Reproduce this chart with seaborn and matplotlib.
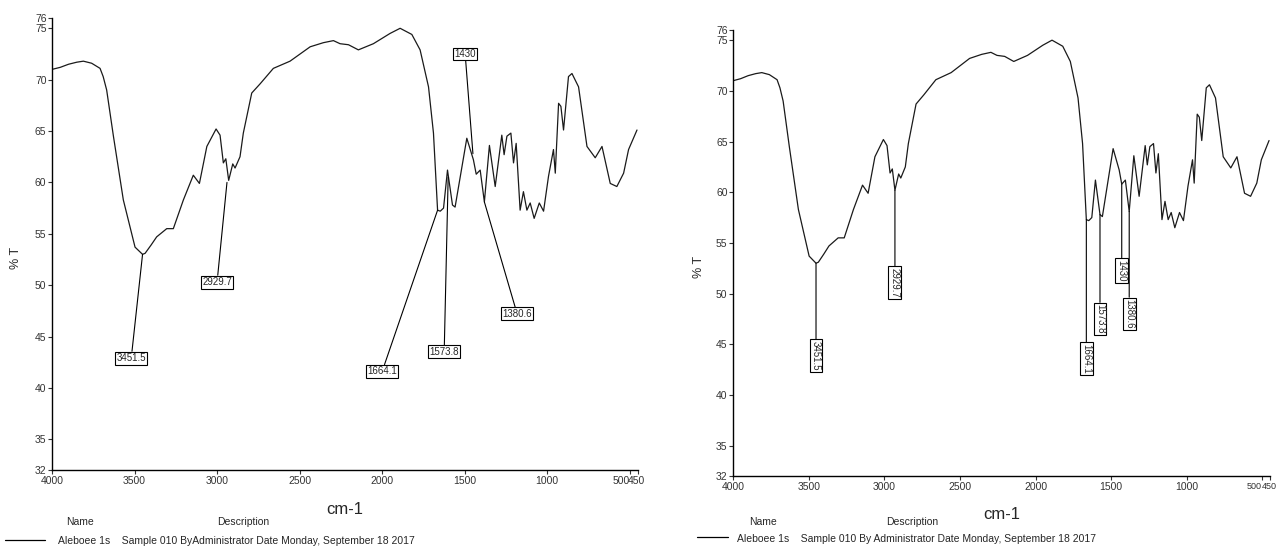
import matplotlib
matplotlib.use("Agg")
import matplotlib.pyplot as plt
from matplotlib.lines import Line2D
from matplotlib.transforms import ScaledTranslation
import pandas as pd
import seaborn as sns

# IR spectrum (wavenumber cm-1, %T)
wavenumber = [4000, 3950, 3900, 3850, 3810, 3760, 3709, 3690, 3669, 3628, 3568, 3497,
              3451.5, 3436, 3400, 3366, 3305, 3265, 3204, 3144, 3107, 3062, 3006, 2982,
              2962, 2947, 2929.7, 2905, 2891, 2861, 2841, 2790, 2739, 2659, 2558, 2436,
              2356, 2295, 2255, 2204, 2144, 2053, 1952, 1891, 1820, 1770, 1719, 1689,
              1664.1, 1648, 1628, 1604, 1573.8, 1558, 1487, 1447, 1430, 1406, 1380.6,
              1350, 1315, 1275, 1261, 1244, 1220, 1204, 1188, 1164, 1144, 1123, 1103,
              1079, 1048, 1022, 992, 962, 951, 931, 917, 901, 871, 850, 810, 759, 709,
              668, 618, 578, 537, 507, 456]
transmittance = [71.0, 71.2, 71.5, 71.7, 71.8, 71.6, 71.1, 70.3, 69.0, 64.5, 58.3, 53.7,
                 53.0, 53.1, 53.9, 54.7, 55.5, 55.5, 58.3, 60.7, 59.9, 63.5, 65.2, 64.6,
                 61.9, 62.3, 60.2, 61.8, 61.4, 62.5, 64.8, 68.7, 69.6, 71.1, 71.8, 73.2,
                 73.6, 73.8, 73.5, 73.4, 72.9, 73.5, 74.5, 75.0, 74.4, 72.9, 69.3, 64.8,
                 57.3, 57.2, 57.5, 61.2, 57.8, 57.6, 64.3, 62.2, 60.8, 61.2, 58.1,
                 63.6, 59.6, 64.6, 62.7, 64.5, 64.8, 61.9, 63.8, 57.3, 59.1, 57.3, 58.0,
                 56.5, 58.0, 57.2, 60.6, 63.2, 60.9, 67.7, 67.4, 65.1, 70.3, 70.6, 69.3,
                 63.5, 62.4, 63.5, 59.9, 59.6, 60.9, 63.2, 65.1]

peak_labels = ["3451.5", "2929.7", "1664.1", "1573.8", "1430", "1380.6"]
peak_x = [3451.5, 2929.7, 1664.1, 1573.8, 1430, 1380.6]
peak_y = [53.0, 60.2, 57.3, 57.8, 60.8, 58.1]
# left panel: slanted leader lines to labels
left_line_x = [3451.5, 2940, 1664.1, 1600, 1450, 1380.6]
left_line_y = [53.0, 60.0, 57.3, 60.5, 62.8, 58.1]
left_box_x = [3520, 3000, 2000, 1624, 1497, 1182]
left_box_y = [42.9, 50.3, 41.6, 43.5, 72.5, 47.2]
# right panel: vertical labels under each peak
right_box_y = [43.9, 51.1, 43.6, 47.5, 52.3, 48.0]

x_ticks = [4000, 3500, 3000, 2500, 2000, 1500, 1000, 500, 450]
y_ticks = [76, 75, 70, 65, 60, 55, 50, 45, 40, 35, 32]

df = pd.DataFrame({"wn": wavenumber, "T": transmittance})

sns.set_theme(style="ticks")
plt.rcParams["font.family"] = ["Liberation Sans", "DejaVu Sans"]

fig = plt.figure(figsize=(12.78, 5.46), dpi=100)
ax_l = fig.add_axes([0.0407, 0.139, 0.4585, 0.828])
ax_r = fig.add_axes([0.5736, 0.128, 0.4201, 0.817])

box = dict(boxstyle="square,pad=0.15", fc="white", ec="black", lw=0.8)
line = dict(arrowstyle="-", lw=0.8, color="black", shrinkA=0, shrinkB=0)

for ax in (ax_l, ax_r):
    sns.lineplot(data=df, x="wn", y="T", sort=False, estimator=None,
                 color="#1a1a1a", lw=0.9, ax=ax)
    ax.set_xlim(4000, 450)
    ax.set_ylim(32, 76)
    ax.set_xticks(x_ticks)
    ax.set_xticklabels([str(t) for t in x_ticks])
    ax.set_yticks(y_ticks)
    ax.set_yticklabels([str(t) for t in y_ticks])
    ax.tick_params(labelsize=7.5, length=3, width=0.8, colors="#333333", pad=1)
    labels = ax.get_xticklabels()
    labels[-2].set_ha("right")
    labels[-1].set_ha("right")
    labels[-1].set_transform(labels[-1].get_transform()
                             + ScaledTranslation(7 / 100, 0, fig.dpi_scale_trans))
    if ax is ax_r:
        labels[-2].set_fontsize(6.5)
        labels[-1].set_fontsize(6.5)
        labels[-2].set_transform(labels[-2].get_transform()
                                 + ScaledTranslation(-1 / 100, 0, fig.dpi_scale_trans))
    ax.set_xlabel("cm-1", fontsize=12, labelpad=2)
    ax.xaxis.set_label_coords(0.5, -0.07)
    ax.set_ylabel("% T", fontsize=9)
    sns.despine(ax=ax)
    for s in ("left", "bottom"):
        ax.spines[s].set_color("black")
        ax.spines[s].set_linewidth(1.0)

ax_l.yaxis.set_label_coords(-0.052, 0.47)
ax_r.yaxis.set_label_coords(-0.052, 0.47)

for lab, lx, ly, bx, by in zip(peak_labels, left_line_x, left_line_y, left_box_x, left_box_y):
    ax_l.annotate(lab, xy=(lx, ly), xytext=(bx, by), fontsize=7, ha="center",
                  va="center", bbox=box, arrowprops=line)

for lab, px, py, by in zip(peak_labels, peak_x, peak_y, right_box_y):
    ax_r.annotate(lab, xy=(px, py), xytext=(px, by), fontsize=7, ha="center",
                  va="center", rotation=270, bbox=box, arrowprops=line)

# footer with sample info
fig.text(0.052, 0.038, "Name", fontsize=7.5)
fig.text(0.170, 0.038, "Description", fontsize=7.5)
fig.add_artist(Line2D([0.004, 0.035], [0.011, 0.011], color="black", lw=0.9))
fig.text(0.045, 0.003, "Aleboee 1s    Sample 010 ByAdministrator Date Monday, September 18 2017",
         fontsize=7.5)
fig.text(0.586, 0.038, "Name", fontsize=7.5)
fig.text(0.693, 0.038, "Description", fontsize=7.5)
fig.add_artist(Line2D([0.545, 0.570], [0.016, 0.016], color="black", lw=0.9))
fig.text(0.577, 0.008, "Aleboee 1s    Sample 010 By Administrator Date Monday, September 18 2017",
         fontsize=7.5)

fig.savefig("out.png", dpi=100)
